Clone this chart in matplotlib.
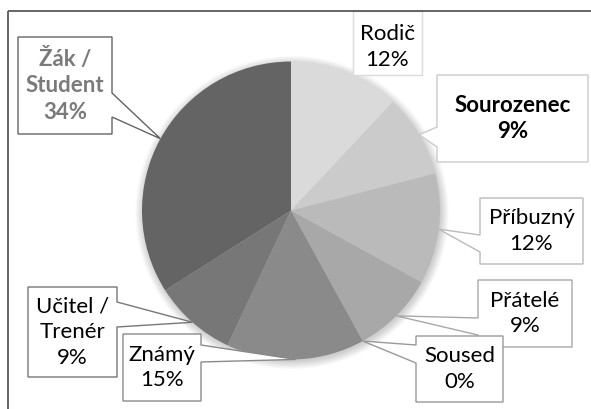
import matplotlib
matplotlib.use("Agg")
import numpy as np
import matplotlib.pyplot as plt
from matplotlib.patches import Polygon, Circle

# Data: who the respondent is, share in percent
categories = ["Rodič", "Sourozenec", "Příbuzný", "Přátelé", "Soused",
              "Známý", "Učitel /\nTrenér", "Žák /\nStudent"]
shares = [12, 9, 12, 9, 0, 15, 9, 34]

slice_colors = ["#dadada", "#cbcbcb", "#bababa", "#a8a8a8", "#999999",
                "#8a8a8a", "#777777", "#646464"]

W, H = 591, 409
plt.rcParams["font.family"] = ["Lato", "DejaVu Sans"]

fig = plt.figure(figsize=(W / 100, H / 100), dpi=100)
ax = fig.add_axes([0, 0, 1, 1])

cx, cy = 291, H - 210.5
R = 149

# soft outer shadow under the pie
for i in range(12):
    ax.add_patch(Circle((cx + 1, cy - 2), R + i * 0.7, color="black",
                        alpha=0.014, lw=0, zorder=0))

wedges, _ = ax.pie(shares, startangle=90, counterclock=False,
                   colors=slice_colors, center=(cx, cy), radius=R,
                   wedgeprops=dict(linewidth=0))
for w in wedges:
    w.set_zorder(1)

ax.set_xlim(0, W)
ax.set_ylim(0, H)
ax.set_aspect("equal")
ax.axis("off")

# callout boxes in pixel coordinates (top-left origin):
# x0, y0, x1, y1, side of the pointer, pointer base from / to
boxes = [
    (353, 11, 422, 75, None, 0, 0),
    (437, 75, 588, 162, "left", 127, 147),
    (480, 198, 583, 264, "left", 235, 252),
    (478, 280, 572, 347, "left", 318, 335),
    (416, 336, 503, 402, "left", 345, 363),
    (123, 334, 201, 401, "right", 345, 362),
    (28, 287, 117, 377, "right", 302, 327),
    (18, 37, 112, 134, "right", 93, 117),
]

text_styles = {
    1: dict(weight="bold", color="black"),
    7: dict(weight="bold", color="#7a7a7a"),
}


def fy(y):
    return H - y


for i, (w, cat, val) in enumerate(zip(wedges, categories, shares)):
    x0, y0, x1, y1, side, b0, b1 = boxes[i]
    mid = np.deg2rad((w.theta1 + w.theta2) / 2)
    tip = (cx + R * np.cos(mid), cy + R * np.sin(mid))
    if side == "left":
        pts = [(x0, fy(y0)), (x1, fy(y0)), (x1, fy(y1)), (x0, fy(y1)),
               (x0, fy(b1)), tip, (x0, fy(b0))]
    elif side == "right":
        pts = [(x0, fy(y0)), (x1, fy(y0)), (x1, fy(b0)), tip,
               (x1, fy(b1)), (x1, fy(y1)), (x0, fy(y1))]
    else:
        pts = [(x0, fy(y0)), (x1, fy(y0)), (x1, fy(y1)), (x0, fy(y1))]
    ax.add_patch(Polygon(pts, closed=True, facecolor="white",
                         edgecolor=slice_colors[i], lw=1.0, zorder=3,
                         joinstyle="miter"))
    style = text_styles.get(i, dict(weight="normal", color="black"))
    ty = (y0 + y1) / 2 + (4 if i == 0 else 0)
    ax.text((x0 + x1) / 2, fy(ty), f"{cat}\n{val}%",
            ha="center", va="center", fontsize=16, linespacing=1.35,
            zorder=4, **style)

# chart frame (top and left edges visible)
ax.plot([8, W], [fy(11), fy(11)], color="#595959", lw=1.3, zorder=5,
        solid_capstyle="butt")
ax.plot([8, 8], [0, fy(11)], color="#595959", lw=1.3, zorder=5,
        solid_capstyle="butt")

fig.savefig("out.png", dpi=100)
